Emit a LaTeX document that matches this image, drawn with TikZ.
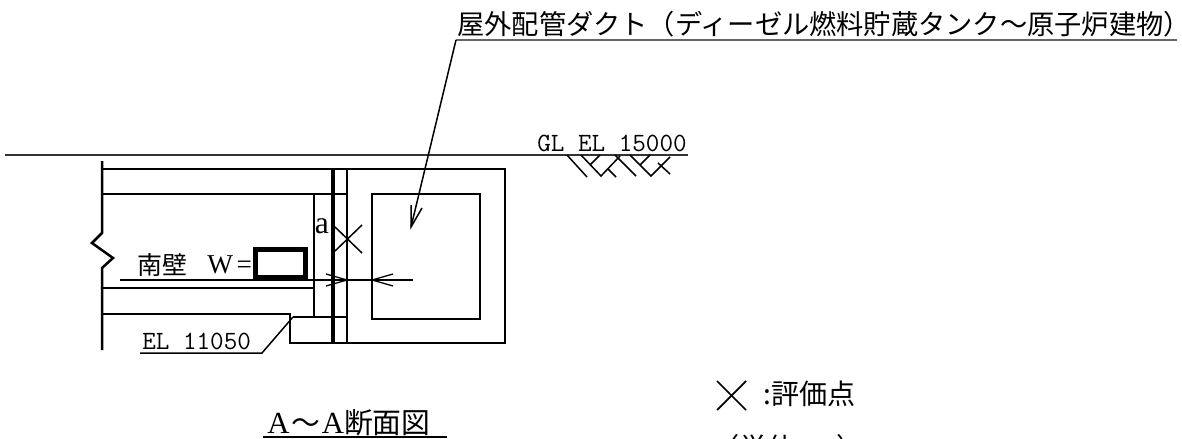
\documentclass[tikz,border=0pt]{standalone}
\usepackage{fontspec}
\setmainfont{Liberation Serif}
\newfontfamily\cjk{Noto Sans CJK JP}
\tikzset{
	elabel/.style={inner sep=0, anchor=west, font=\ttfamily\fontsize{15}{15}\selectfont},
	jlabel/.style={inner sep=0, anchor=west, font=\cjk\fontsize{14.2}{15}\selectfont},
}
\begin{document}
\begin{tikzpicture}[x=0.02cm,y=-0.02cm]
		%%%%% START %%%%%
		\useasboundingbox (0, 0) rectangle (1182, 439);
		
		\draw[line width=0.45mm, color=black!80] (5, 155) -- (688, 155);
		\node[elabel] (glLabel) at (537, 143) {GL\ EL\ 15000};
		\draw[line width=0.3mm] (567, 155) -- (587, 177);
		\draw[line width=0.3mm] (581, 155) -- (601, 176) -- (620, 156);
		\draw[line width=0.3mm] (590, 165) -- (600, 155);
		\draw[line width=0.3mm] (608, 169) -- (616, 177);
		\draw[line width=0.3mm] (615, 155) -- (636, 176);
		\draw[line width=0.3mm] (630, 155) -- (651, 176) -- (670, 157);
		\draw[line width=0.3mm] (640, 165) -- (650, 155);
		\draw[line width=0.3mm] (658, 163) -- (670, 174);
		
		\draw[line width=0.5mm] (102, 161) -- (102, 233) -- (92, 243) -- (113, 258) -- (102, 268) -- (102, 350);
		\draw[line width=0.4mm] (102, 169) -- (505, 169) -- (505, 343) -- (290, 343) -- (290, 314) -- (102, 314);
		\draw[line width=0.35mm] (102, 194) -- (347, 194);
		\draw[line width=0.8mm] (333, 169) -- (333, 343);
		\draw[line width=0.35mm] (347, 169) -- (347, 343);
		\draw[line width=0.3mm] (314, 194) -- (314, 317);
		\draw[line width=0.3mm] (102, 288) -- (314, 288);
		\draw[line width=0.3mm] (293, 317) -- (347, 317);
		\draw[line width=0.45mm] (372, 194) rectangle (480, 319);
		
		\draw[line width=0.3mm] (140, 353) -- (262, 353) -- (293, 317);
		\node[elabel] (elLabel) at (142, 341) {EL\ 11050};
		
		\draw[line width=0.3mm] (120, 280) -- (413, 280);
		\draw[line width=0.25mm] (326, 274) -- (347, 280) -- (326, 286);
		\draw[line width=0.25mm] (393, 274) -- (372, 280) -- (393, 286);
		\node[jlabel] (wallLabel) at (137, 265) {南壁};
		\node[inner sep=0, anchor=west, font=\fontsize{15.5}{16}\selectfont] (wLabel) at (207, 265) {W\hspace{2pt}=};
		\draw[line width=1mm] (255.5, 249.5) rectangle (305, 277);
		\node[inner sep=0, font=\fontsize{18}{18}\selectfont] (aLabel) at (322, 226) {a};
		
		\draw[line width=0.3mm] (335, 227) -- (362, 253);
		\draw[line width=0.3mm] (335, 251) -- (362, 225);
		
		\draw[line width=0.45mm, color=black!60] (1177, 40) -- (456, 40);
		\draw[line width=0.3mm] (456, 40) -- (411, 227);
		\draw[line width=0.3mm] (411, 205) -- (411, 227) -- (422, 208);
		\node[inner sep=0, anchor=west, font=\cjk\fontsize{15.5}{16}\selectfont] (ductLabel) at (457, 24) {屋外配管ダクト（ディーゼル燃料貯蔵タンク～原子炉建物）};
		
		\node[inner sep=0, anchor=west, font=\fontsize{17.5}{18}\selectfont] (titleLabel) at (267, 423) {A\hspace{1pt}{\cjk\fontsize{16.4}{18}\selectfont ～}\hspace{1pt}A{\cjk\fontsize{16.4}{18}\selectfont 断面図}};
		\draw[line width=0.4mm] (263, 437) -- (447, 437);
		
		\draw[line width=0.35mm] (717, 381) -- (746, 410);
		\draw[line width=0.35mm] (717, 410) -- (746, 381);
		\node[inner sep=0, anchor=west, font=\cjk\fontsize{16}{17}\selectfont] (pointLabel) at (763, 394) {:評価点};
		\node[inner sep=0, anchor=west, font=\cjk\fontsize{16}{17}\selectfont] (unitLabel) at (711, 448) {（単位{\ttfamily\fontsize{15}{15}\selectfont :mm}）};
		%%%%% END %%%%%
	\end{tikzpicture}
\end{document}
